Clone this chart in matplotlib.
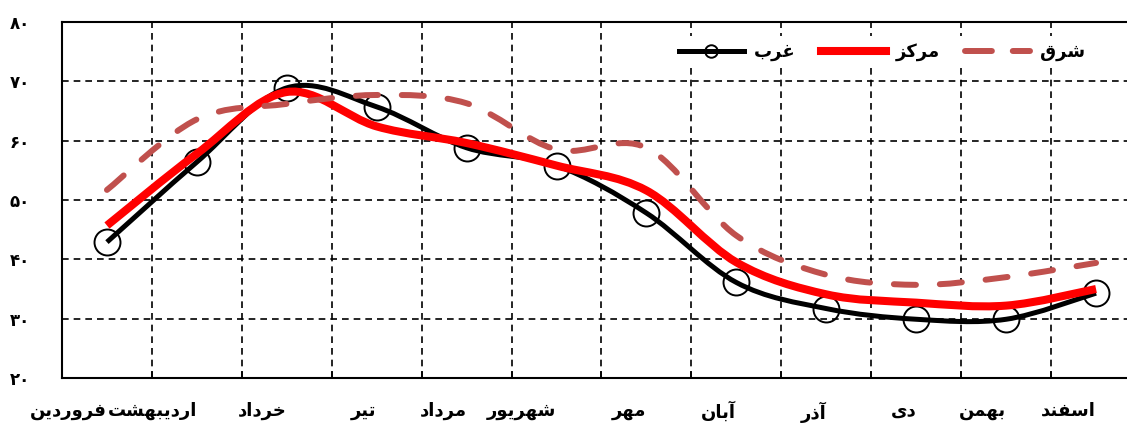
import numpy as np
import matplotlib
matplotlib.use('Agg')
import matplotlib.pyplot as plt
from matplotlib.path import Path
from matplotlib.patches import PathPatch
from matplotlib.lines import Line2D

months = ['فروردین', 'اردیبهشت', 'خرداد', 'تیر', 'مرداد', 'شهریور',
          'مهر', 'آبان', 'آذر', 'دی', 'بهمن', 'اسفند']
west = [42.9, 56.4, 68.9, 65.7, 58.8, 55.8, 47.8, 36.1, 31.7, 29.9, 29.9, 34.3]
center = [45.7, 57.8, 68.2, 62.4, 59.6, 55.8, 51.6, 39.5, 34.1, 32.7, 32.2, 35.0]
east = [51.7, 63.6, 66.2, 67.7, 66.3, 58.5, 58.8, 44.0, 37.4, 35.7, 37.0, 39.4]
y_ticks = [20, 30, 40, 50, 60, 70, 80]
y_labels = ['۲۰', '۳۰', '۴۰', '۵۰', '۶۰', '۷۰', '۸۰']
names = ['غرب', 'مرکز', 'شرق']

# matplotlib has no arabic shaping, so pick presentation forms by hand
# (isolated, final, initial, medial)
FORMS = {
    'ا': ('\uFE8D', '\uFE8E', None, None),
    'آ': ('\uFE81', '\uFE82', None, None),
    'ب': ('\uFE8F', '\uFE90', '\uFE91', '\uFE92'),
    'ت': ('\uFE95', '\uFE96', '\uFE97', '\uFE98'),
    'خ': ('\uFEA5', '\uFEA6', '\uFEA7', '\uFEA8'),
    'د': ('\uFEA9', '\uFEAA', None, None),
    'ذ': ('\uFEAB', '\uFEAC', None, None),
    'ر': ('\uFEAD', '\uFEAE', None, None),
    'ز': ('\uFEAF', '\uFEB0', None, None),
    'س': ('\uFEB1', '\uFEB2', '\uFEB3', '\uFEB4'),
    'ش': ('\uFEB5', '\uFEB6', '\uFEB7', '\uFEB8'),
    'غ': ('\uFECD', '\uFECE', '\uFECF', '\uFED0'),
    'ف': ('\uFED1', '\uFED2', '\uFED3', '\uFED4'),
    'ق': ('\uFED5', '\uFED6', '\uFED7', '\uFED8'),
    'م': ('\uFEE1', '\uFEE2', '\uFEE3', '\uFEE4'),
    'ن': ('\uFEE5', '\uFEE6', '\uFEE7', '\uFEE8'),
    'ه': ('\uFEE9', '\uFEEA', '\uFEEB', '\uFEEC'),
    'و': ('\uFEED', '\uFEEE', None, None),
    'ی': ('\uFBFC', '\uFBFD', '\uFBFE', '\uFBFF'),
    'ک': ('\uFB8E', '\uFB8F', '\uFB90', '\uFB91'),
}


def shape(word):
    out = []
    for i, ch in enumerate(word):
        if ch not in FORMS:
            out.append(ch)
            continue
        iso, fin, ini, med = FORMS[ch]
        prev = word[i - 1] if i > 0 else None
        nxt = word[i + 1] if i + 1 < len(word) else None
        jp = prev in FORMS and FORMS[prev][2] is not None
        jn = nxt in FORMS and ini is not None
        if jp and jn:
            out.append(med)
        elif jp:
            out.append(fin)
        elif jn:
            out.append(ini)
        else:
            out.append(iso)
    return ''.join(reversed(out))


def smooth_path(xs, ys):
    # excel style smoothed line, bezier through every point
    p = np.column_stack([xs, ys]).astype(float)
    n = len(p)
    verts = [p[0]]
    codes = [Path.MOVETO]
    for i in range(n - 1):
        p0 = p[max(i - 1, 0)]
        p1 = p[i]
        p2 = p[i + 1]
        p3 = p[min(i + 2, n - 1)]
        verts += [p1 + (p2 - p0) / 6, p2 - (p3 - p1) / 6, p2]
        codes += [Path.CURVE4] * 3
    return Path(verts, codes)


plt.rcParams['font.family'] = ['DejaVu Sans']

fig = plt.figure(figsize=(11.27, 4.25), dpi=100)
ax = fig.add_axes([62 / 1127, 47 / 425, 1079 / 1127, 356 / 425])
x = np.arange(1, len(months) + 1)

ax.add_patch(PathPatch(smooth_path(x, west), fill=False, color='black',
                       lw=3.6, capstyle='butt', joinstyle='round', zorder=3))
ax.plot(x, west, 'o', ms=18.7, mfc='none', mec='black', mew=1.4, zorder=3.5)
ax.add_patch(PathPatch(smooth_path(x, center), fill=False, color='red',
                       lw=5.8, capstyle='butt', joinstyle='round', zorder=4))
ax.add_patch(PathPatch(smooth_path(x, east), fill=False, color='#C0504D',
                       lw=4.3, ls=(0, (3.7, 4.0)), capstyle='round',
                       joinstyle='round', zorder=5))

ax.set_xlim(0.5, 12.5)
ax.set_ylim(20, 80)
ax.set_xticks(x)
ax.set_xticklabels([shape(m) for m in months], ha='right',
                   fontsize=13, fontweight='bold')
ax.set_xticks(np.arange(1.5, 12.5, 1), minor=True)
ax.set_yticks(y_ticks)
ax.set_yticklabels(y_labels, fontsize=12, fontweight='bold')
ax.tick_params(axis='x', which='major', length=0, pad=17)
ax.tick_params(axis='x', which='minor', direction='in', length=5, width=1.2)
ax.tick_params(axis='y', length=0, pad=23)

ax.set_axisbelow(True)
ax.grid(which='minor', axis='x', color='black', lw=1.2, ls=(0, (4, 3)))
ax.grid(which='major', axis='y', color='black', lw=1.2, ls=(0, (4, 3)))
for s in ax.spines.values():
    s.set_linewidth(1.5)

handles = [
    Line2D([], [], color='black', lw=3.6, marker='o', ms=9, mfc='none',
           mec='black', mew=1.4),
    Line2D([], [], color='red', lw=5.8),
    Line2D([], [], color='#C0504D', lw=4.3, ls=(0, (4.5, 3.5)),
           dash_capstyle='round'),
]
leg = ax.legend(handles, [shape(n) for n in names], ncol=3, numpoints=1,
                loc='center', bbox_to_anchor=(882 / 1127, 1 - 52 / 425),
                bbox_transform=fig.transFigure, frameon=True,
                facecolor='white', edgecolor='none', framealpha=1,
                prop={'size': 13, 'weight': 'bold'}, handlelength=3.6,
                handletextpad=0.55, columnspacing=1.4)
leg.set_zorder(6)

fig.savefig('out.png', dpi=100)
